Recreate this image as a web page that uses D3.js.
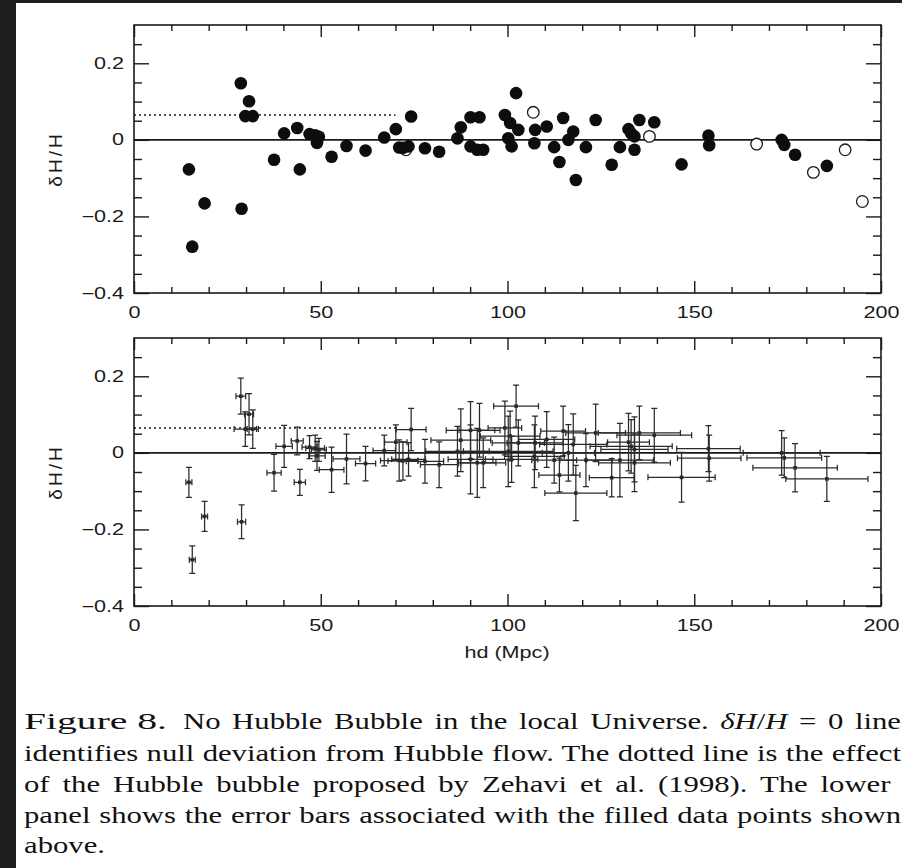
<!DOCTYPE html>
<html>
<head>
<meta charset="utf-8">
<script src="https://cdn.jsdelivr.net/npm/d3@7"></script>
<style>
  html, body { margin: 0; padding: 0; background: #1f1f1f; }
  svg { display: block; }
</style>
</head>
<body>
<svg id="fig" width="902" height="868"></svg>
<script>
// Hubble-flow deviation of individual galaxies vs distance hd (Mpc)
const filledHd = [14.7, 15.6, 18.9, 28.6, 28.8, 30.8, 29.8, 31.8, 37.5, 40.2, 43.7, 44.4, 47.0, 48.5, 49.5, 49.0,
  52.9, 56.9, 62.0, 67.0, 70.1, 74.2, 71.0, 72.0, 73.5, 77.9, 81.7, 86.6, 87.5, 90.1, 92.5, 90.1, 91.9, 93.5,
  99.3, 100.7, 102.9, 100.2, 101.1, 102.3, 107.4, 107.2, 110.5, 112.5, 113.9, 114.9, 116.3, 117.6, 118.3, 121.0,
  123.6, 127.9, 130.1, 132.4, 133.1, 134.0, 134.0, 135.3, 139.3, 146.6, 153.8, 154.0, 173.4, 174.1, 177.0, 185.5];
const filledDev = [-0.077, -0.279, -0.166, 0.148, -0.180, 0.101, 0.062, 0.062, -0.052, 0.017, 0.031, -0.077, 0.015, 0.012, 0.008, -0.008,
  -0.044, -0.016, -0.028, 0.006, 0.028, 0.061, -0.020, -0.021, -0.017, -0.022, -0.031, 0.004, 0.033, 0.059, 0.059, -0.017, -0.026, -0.026,
  0.065, 0.044, 0.026, 0.004, -0.017, 0.122, 0.026, -0.009, 0.035, -0.019, -0.058, 0.057, 0.000, 0.022, -0.105, -0.019,
  0.052, -0.065, -0.019, 0.028, 0.017, 0.009, -0.026, 0.052, 0.046, -0.064, 0.011, -0.014, 0.000, -0.013, -0.039, -0.068];
const hdErr = [0.8, 0.8, 0.8, 1.3, 1.1, 1.2, 3.0, 1.5, 1.9, 2.2, 1.6, 1.5, 2.0, 2.5, 2.0, 2.2,
  3.3, 3.6, 2.7, 3.0, 3.0, 4.0, 5.0, 4.0, 4.5, 5.0, 5.0, 8.5, 8.0, 6.5, 5.5, 6.0, 5.0, 6.0,
  4.5, 8.0, 7.0, 12.0, 7.0, 6.0, 7.5, 8.0, 7.5, 6.0, 5.5, 6.0, 7.0, 9.0, 8.3, 7.0,
  8.0, 6.0, 9.0, 5.6, 11.0, 9.0, 9.6, 11.0, 10.0, 9.0, 8.5, 8.5, 10.3, 10.0, 11.3, 11.0];
const devErr = [0.039, 0.036, 0.039, 0.047, 0.044, 0.054, 0.045, 0.050, 0.048, 0.055, 0.036, 0.034, 0.030, 0.034, 0.030, 0.038,
  0.059, 0.065, 0.045, 0.040, 0.045, 0.055, 0.054, 0.050, 0.044, 0.057, 0.060, 0.065, 0.082, 0.075, 0.070, 0.090, 0.090, 0.065,
  0.070, 0.065, 0.060, 0.092, 0.060, 0.055, 0.070, 0.082, 0.073, 0.060, 0.044, 0.065, 0.074, 0.080, 0.072, 0.069,
  0.075, 0.050, 0.096, 0.075, 0.070, 0.085, 0.075, 0.070, 0.070, 0.065, 0.060, 0.060, 0.058, 0.052, 0.063, 0.059];
const openHd = [72.8, 106.9, 138.0, 166.7, 181.9, 190.4, 195.0];
const openDev = [-0.026, 0.072, 0.009, -0.011, -0.085, -0.026, -0.161];

// Zehavi et al. (1998) bubble: constant offset inside ~70 Mpc
const bubbleDev = 0.065;
const bubbleEdge = 70;

const xMajorTicks = [0, 50, 100, 150, 200];
const xMinorTicks = [10, 20, 30, 40, 60, 70, 80, 90, 110, 120, 130, 140, 160, 170, 180, 190];
const yMajorTicks = [-0.4, -0.2, 0, 0.2];
const yMinorTicks = [-0.35, -0.3, -0.25, -0.15, -0.1, -0.05, 0.05, 0.1, 0.15, 0.25];

// "|" toggles italic (math) spans
const captionLines = [
  ["Figure 8.", "No Hubble Bubble in the local Universe. |δH|/|H| = 0 line"],
  ["identifies null deviation from Hubble flow. The dotted line is the effect"],
  ["of the Hubble bubble proposed by Zehavi et al.  (1998).  The lower"],
  ["panel shows the error bars associated with the filled data points shown"],
  ["above."]
];

const svg = d3.select("#fig");
svg.append("rect").attr("x", 16).attr("y", 3).attr("width", 902 - 16).attr("height", 868 - 3).attr("fill", "#fff");

const ink = "#1a1a1a";
const sansStretch = 1.35;
const x = d3.scaleLinear().domain([0, 200]).range([134, 881]);
const panels = [
  { top: 25, bottom: 293, errors: false },
  { top: 338, bottom: 606, errors: true }
];

function styleAxis(sel) {
  sel.select(".domain").remove();
  sel.selectAll(".tick line").attr("stroke", ink).attr("stroke-width", 1.4);
  sel.selectAll("text")
    .attr("font-family", "'Liberation Sans', Arial, sans-serif")
    .attr("font-size", 16)
    .attr("fill", ink)
    .attr("transform", `scale(${sansStretch},1)`);
}

panels.forEach(p => {
  const y = d3.scaleLinear().domain([-0.4, 0.3]).range([p.bottom, p.top]);
  const g = svg.append("g");
  const yFmt = d => d === 0 ? "0" : d3.format(".1f")(d);

  // ticks on all four sides, pointing inward
  g.append("g").attr("transform", `translate(0,${p.bottom})`)
    .call(d3.axisBottom(x).tickValues(xMajorTicks).tickSizeInner(-12).tickSizeOuter(0).tickPadding(14).tickFormat(d3.format("d")))
    .call(styleAxis);
  g.append("g").attr("transform", `translate(0,${p.bottom})`)
    .call(d3.axisBottom(x).tickValues(xMinorTicks).tickSizeInner(-6).tickSizeOuter(0).tickFormat(""))
    .call(styleAxis);
  g.append("g").attr("transform", `translate(0,${p.top})`)
    .call(d3.axisTop(x).tickValues(xMajorTicks).tickSizeInner(-12).tickSizeOuter(0).tickFormat(""))
    .call(styleAxis);
  g.append("g").attr("transform", `translate(0,${p.top})`)
    .call(d3.axisTop(x).tickValues(xMinorTicks).tickSizeInner(-6).tickSizeOuter(0).tickFormat(""))
    .call(styleAxis);
  g.append("g").attr("transform", `translate(${x(0)},0)`)
    .call(d3.axisLeft(y).tickValues(yMajorTicks).tickSizeInner(-15).tickSizeOuter(0).tickPadding(7.4).tickFormat(yFmt))
    .call(styleAxis);
  g.append("g").attr("transform", `translate(${x(0)},0)`)
    .call(d3.axisLeft(y).tickValues(yMinorTicks).tickSizeInner(-8).tickSizeOuter(0).tickFormat(""))
    .call(styleAxis);
  g.append("g").attr("transform", `translate(${x(200)},0)`)
    .call(d3.axisRight(y).tickValues(yMajorTicks).tickSizeInner(-15).tickSizeOuter(0).tickFormat(""))
    .call(styleAxis);
  g.append("g").attr("transform", `translate(${x(200)},0)`)
    .call(d3.axisRight(y).tickValues(yMinorTicks).tickSizeInner(-8).tickSizeOuter(0).tickFormat(""))
    .call(styleAxis);

  // frame
  g.append("rect")
    .attr("x", x(0)).attr("y", y(0.3))
    .attr("width", x(200) - x(0)).attr("height", y(-0.4) - y(0.3))
    .attr("fill", "none").attr("stroke", ink).attr("stroke-width", 1.6);

  // y-axis title
  g.append("text")
    .attr("transform", `translate(62,${(p.top + p.bottom) / 2}) rotate(-90)`)
    .attr("text-anchor", "middle")
    .attr("font-family", "'Liberation Sans', Arial, sans-serif")
    .attr("font-size", 19)
    .attr("letter-spacing", 3)
    .attr("fill", ink)
    .text("δH/H");

  // null deviation and bubble lines
  g.append("line")
    .attr("x1", x(0)).attr("x2", x(200)).attr("y1", y(0)).attr("y2", y(0))
    .attr("stroke", ink).attr("stroke-width", 1.6);
  g.append("line")
    .attr("x1", x(0)).attr("x2", x(bubbleEdge)).attr("y1", y(bubbleDev)).attr("y2", y(bubbleDev))
    .attr("stroke", ink).attr("stroke-width", 1.4).attr("stroke-dasharray", "2,3");

  if (!p.errors) {
    g.append("g").selectAll("circle").data(d3.range(openHd.length)).join("circle")
      .attr("cx", i => x(openHd[i])).attr("cy", i => y(openDev[i])).attr("r", 5.8)
      .attr("fill", "#fff").attr("stroke", ink).attr("stroke-width", 1.3);
    g.append("g").selectAll("circle").data(d3.range(filledHd.length)).join("circle")
      .attr("cx", i => x(filledHd[i])).attr("cy", i => y(filledDev[i])).attr("r", 6.3)
      .attr("fill", "#0d0d0d");
  } else {
    const cap = 3;
    const bars = g.append("g").attr("stroke", "#2a2a2a").attr("stroke-width", 1.25).attr("fill", "none");
    const items = bars.selectAll("g").data(d3.range(filledHd.length)).join("g");
    items.append("path").attr("d", i => {
      const cx = x(filledHd[i]), cy = y(filledDev[i]);
      const y1 = y(filledDev[i] + devErr[i]), y2 = y(filledDev[i] - devErr[i]);
      const x1 = x(filledHd[i] - hdErr[i]), x2 = x(filledHd[i] + hdErr[i]);
      return `M${cx},${y1}V${y2}` +
        `M${cx - cap},${y1}H${cx + cap}M${cx - cap},${y2}H${cx + cap}` +
        `M${x1},${cy}H${x2}` +
        `M${x1},${cy - cap}V${cy + cap}M${x2},${cy - cap}V${cy + cap}`;
    });
    items.append("rect")
      .attr("x", i => x(filledHd[i]) - 1.8).attr("y", i => y(filledDev[i]) - 1.8)
      .attr("width", 3.6).attr("height", 3.6)
      .attr("fill", "#2a2a2a").attr("stroke", "none");
  }
});

// x-axis title under the lower panel
svg.append("text")
  .attr("transform", `translate(507,658) scale(${sansStretch},1)`)
  .attr("text-anchor", "middle")
  .attr("font-family", "'Liberation Sans', Arial, sans-serif")
  .attr("font-size", 16)
  .attr("fill", ink)
  .text("hd (Mpc)");

// caption, justified between the left margin and the right edge
const capLeft = 24, capRight = 901, capStretch = 1.28;
const baselines = [729, 761, 792, 823, 853];
function addCaptionPiece(str, x0, y0, targetRight, stretchGlyphs) {
  const t = svg.append("text")
    .attr("transform", `translate(${x0},${y0}) scale(${capStretch},1)`)
    .attr("font-family", "'Liberation Serif', 'Times New Roman', serif")
    .attr("font-size", 24)
    .attr("fill", "#111");
  str.split("|").forEach((part, k) => {
    t.append("tspan").attr("font-style", k % 2 === 1 ? "italic" : null).text(part);
  });
  if (targetRight != null) {
    const target = (targetRight - x0) / capStretch;
    if (stretchGlyphs) {
      t.attr("textLength", target).attr("lengthAdjust", "spacingAndGlyphs");
    } else {
      const natural = t.node().getComputedTextLength();
      const spaces = (str.match(/ /g) || []).length;
      if (spaces > 0) t.attr("word-spacing", Math.max(-3, (target - natural) / spaces));
    }
  }
  return t;
}
captionLines.forEach((line, i) => {
  if (line.length === 2) {
    addCaptionPiece(line[0], capLeft, baselines[i], 167, true);
    addCaptionPiece(line[1], 183, baselines[i], capRight, false);
  } else if (i < captionLines.length - 1) {
    addCaptionPiece(line[0], capLeft, baselines[i], capRight, false);
  } else {
    addCaptionPiece(line[0], capLeft, baselines[i], null, false);
  }
});
</script>
</body>
</html>
